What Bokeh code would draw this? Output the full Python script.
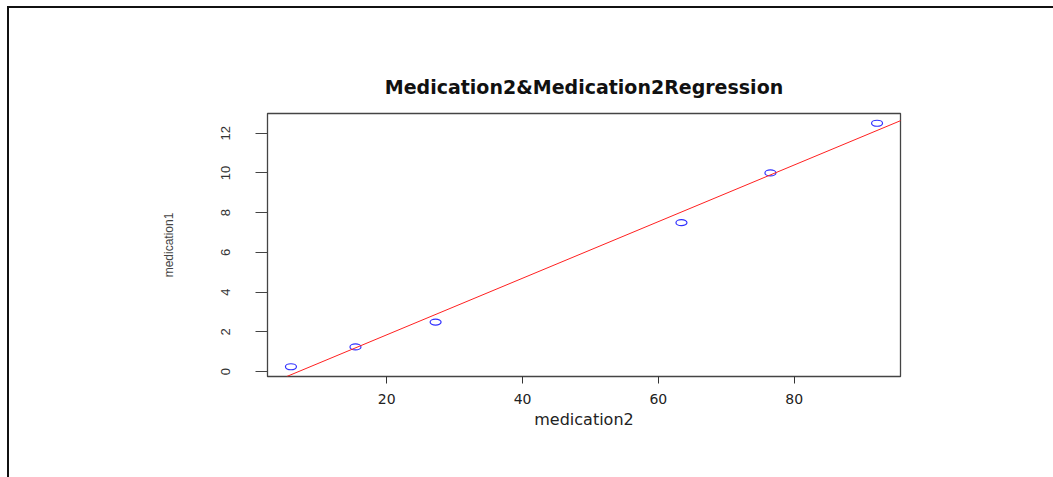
import numpy as np
from bokeh.plotting import figure
from bokeh.models import Range1d, FixedTicker, Slope
from bokeh.embed import file_html
from bokeh.resources import INLINE

# observations
medication2 = [5.9, 15.4, 27.2, 63.4, 76.5, 92.2]
medication1 = [0.25, 1.25, 2.5, 7.5, 10.0, 12.5]

x_ticks = [20, 40, 60, 80]
y_ticks = [0, 2, 4, 6, 8, 10, 12]

title_text = "Medication2&Medication2Regression"
x_label = "medication2"
y_label = "medication1"

# least-squares fit of medication1 on medication2
slope, intercept = np.polyfit(medication2, medication1, 1)

def padded(vals, frac=0.04):
    lo, hi = min(vals), max(vals)
    d = (hi - lo) * frac
    return lo - d, hi + d

x0, x1 = padded(medication2)
y0, y1 = padded(medication1)

p = figure(
    frame_width=633, frame_height=263,
    min_border_left=258, min_border_top=105,
    min_border_right=153, min_border_bottom=101,
    x_range=Range1d(x0, x1), y_range=Range1d(y0, y1),
    output_backend="svg", toolbar_location=None,
    background_fill_color="white", border_fill_color="white",
)
p.margin = (6, 0, 0, 7)
p.styles = {"border-top": "2px solid #111", "border-left": "2px solid #111"}

p.grid.visible = False
p.outline_line_color = "#444"
p.outline_line_width = 1.3

p.title.text = title_text
p.title.align = "center"
p.title.text_font = "DejaVu Sans"
p.title.text_font_style = "bold"
p.title.text_font_size = "19px"
p.title.text_color = "#111"
p.title.standoff = 31

# x axis
xa = p.xaxis[0]
xa.ticker = FixedTicker(ticks=x_ticks)
xa.minor_tick_line_color = None
xa.major_tick_in = 0
xa.major_tick_out = 7
xa.major_tick_line_color = "#333"
xa.axis_line_color = "#444"
xa.major_label_standoff = 10
xa.major_label_text_font = "DejaVu Sans"
xa.major_label_text_font_size = "14px"
xa.major_label_text_color = "#222"
xa.axis_label = x_label
xa.axis_label_text_font = "DejaVu Sans"
xa.axis_label_text_font_style = "normal"
xa.axis_label_text_font_size = "16px"
xa.axis_label_text_color = "#222"
xa.axis_label_standoff = 3

# y axis
ya = p.yaxis[0]
ya.ticker = FixedTicker(ticks=y_ticks)
ya.minor_tick_line_color = None
ya.major_tick_in = 0
ya.major_tick_out = 12
ya.major_tick_line_color = "#444"
ya.axis_line_color = "#444"
ya.major_label_orientation = "vertical"
ya.major_label_standoff = 25
ya.major_label_text_font = "Liberation Sans"
ya.major_label_text_font_size = "13px"
ya.major_label_text_color = "#333"
ya.axis_label = y_label
ya.axis_label_text_font = "Liberation Sans"
ya.axis_label_text_font_style = "normal"
ya.axis_label_text_font_size = "12px"
ya.axis_label_text_color = "#444"
ya.axis_label_standoff = 43

# regression line across the plotting region
p.add_layout(Slope(gradient=slope, y_intercept=intercept,
                   line_color="#ff2020", line_width=1))

# data points as open circles
p.ellipse(x=medication2, y=medication1, width=11, height=6,
          width_units="screen", height_units="screen",
          fill_color=None, line_color="#3030ff", line_width=1.2)

open("out.html", "w").write(file_html(p, INLINE))
